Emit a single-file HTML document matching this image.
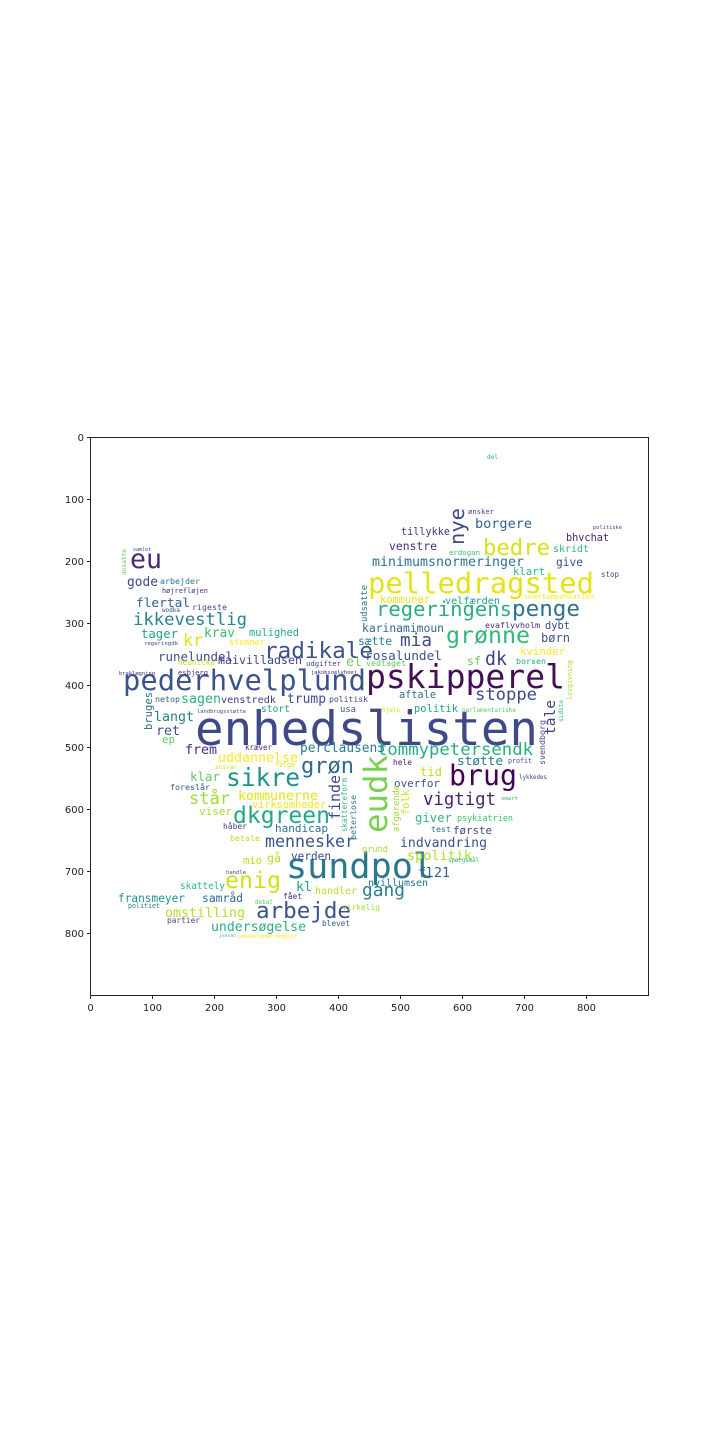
<!DOCTYPE html>
<html><head><meta charset="utf-8"><style>
html,body{margin:0;padding:0;background:#fff;}
svg{display:block;}
</style></head><body>
<svg id="chart" width="720" height="1440" viewBox="0 0 720 1440" xmlns="http://www.w3.org/2000/svg">
<g id="words" font-family="'DejaVu Sans Mono','Liberation Mono',monospace"></g>
<rect x="90.5" y="437.5" width="558" height="558" fill="none" stroke="#222" stroke-width="1"/>
<g id="axes" font-family="'DejaVu Sans','Liberation Sans',sans-serif" font-size="10" fill="#222"></g>
</svg>
<script>
const xTicks=[0,100,200,300,400,500,600,700,800];
const yTicks=[0,100,200,300,400,500,600,700,800];
// [text, x1, x2, baseline, weight(unused), color, rotated]
const words=[
["enhedslisten",195,538,745,58,"#3f4889",0],
["pelledragsted",368,594,593,40,"#e2e418",0],
["pskipperel",366,565,688,42,"#440f54",0],
["pederhvelplund",123,366,690,38,"#3b528b",0],
["sundpol",286,434,878,40,"#2a788e",0],
["brug",449,517,785,36,"#440154",0],
["radikale",264,373,658,30,"#3b528b",0],
["regeringens",376,512,616,28,"#2ab07f",0],
["penge",512,580,616,28,"#2c728e",0],
["grønne",446,530,643,30,"#35b779",0],
["sikre",226,300,786,30,"#21918c",0],
["dkgreen",233,330,823,30,"#22a884",0],
["enig",225,281,888,30,"#d0e11c",0],
["arbejde",256,351,918,28,"#3b528b",0],
["eu",130,162,568,32,"#482878",0],
["bedre",483,550,555,26,"#d8e219",0],
["grøn",301,354,773,26,"#31688e",0],
["ikkevestlig",133,247,625,22,"#25848e",0],
["kr",183,203,646,26,"#dde318",0],
["mia",400,432,646,22,"#3e4a89",0],
["stoppe",475,537,700,22,"#3e4a89",0],
["vigtigt",423,496,805,22,"#482677",0],
["tommypetersendk",377,533,755,18,"#29af7f",0],
["mennesker",265,355,847,18,"#3b528b",0],
["gang",362,405,896,20,"#287d8e",0],
["dk",485,507,665,22,"#433e85",0],
["står",189,230,804,20,"#a0da39",0],
["kommunerne",238,318,800,15,"#dfe318",0],
["uddannelse",218,298,762,15,"#fde725",0],
["frem",185,217,754,15,"#472c7a",0],
["klar",190,220,781,14,"#5ec962",0],
["perclausen3",300,385,752,14,"#287c8e",0],
["indvandring",400,487,847,16,"#3a548c",0],
["spolitik",407,472,860,16,"#addc30",0],
["fl21",418,450,877,16,"#365d8d",0],
["nvillumsen",368,428,886,13,"#2e6e8e",0],
["samråd",202,243,902,14,"#31668e",0],
["omstilling",165,245,917,15,"#b5de2b",0],
["undersøgelse",211,306,931,15,"#2ab07f",0],
["fransmeyer",118,185,902,13,"#20928c",0],
["skattely",180,225,889,12,"#34b679",0],
["kl",296,312,891,16,"#20a386",0],
["handler",315,357,894,13,"#bddf26",0],
["verden",291,331,860,13,"#3e4989",0],
["gå",267,281,862,15,"#b2dd2d",0],
["mio",243,262,864,13,"#b8de29",0],
["handicap",275,328,832,13,"#2c728e",0],
["betale",230,260,841,11,"#bade28",0],
["viser",199,232,815,12,"#a8db34",0],
["håber",223,247,829,11,"#414487",0],
["virksomheder",252,326,808,12,"#f1e51d",0],
["foreslår",170,210,790,11,"#3b528b",0],
["overfor",394,440,787,13,"#3b528b",0],
["tid",420,442,776,15,"#c2df23",0],
["støtte",457,503,765,14,"#29798e",0],
["hele",393,412,765,11,"#482173",0],
["giver",415,452,822,14,"#35b779",0],
["psykiatrien",457,513,821,11,"#3dbc74",0],
["test",431,451,832,11,"#2c718e",0],
["første",453,492,834,13,"#3f4788",0],
["aftale",399,436,698,14,"#2c728e",0],
["politik",414,458,712,13,"#21a685",0],
["sf",467,481,665,16,"#6ece58",0],
["børn",541,570,642,14,"#3b528b",0],
["kvinder",520,565,655,13,"#fde725",0],
["borsen",516,546,664,11,"#25ab82",0],
["dybt",545,570,629,13,"#3e4989",0],
["evaflyvholm",485,540,628,11,"#482979",0],
["rosalundel",365,442,660,15,"#3b528b",0],
["karinamimoun",362,444,632,13,"#31688e",0],
["sætte",358,392,645,12,"#287d8e",0],
["vedtaget",366,406,666,10,"#5ec962",0],
["el",346,362,666,15,"#75d054",0],
["kommuner",380,430,603,11,"#e5e419",0],
["velfærden",445,500,604,12,"#1f998a",0],
["minimumsnormeringer",372,524,566,15,"#2d718e",0],
["venstre",389,437,550,15,"#46307e",0],
["tillykke",401,450,535,13,"#453581",0],
["borgere",475,532,528,15,"#34618d",0],
["bhvchat",566,609,541,13,"#482475",0],
["skridt",553,589,552,13,"#35b779",0],
["give",556,583,566,13,"#3e4c8a",0],
["klart",513,545,575,12,"#2fb47c",0],
["erdogan",449,480,555,9,"#3bbb75",0],
["stop",601,619,577,9,"#3e4989",0],
["overkompensation",525,594,599,8,"#fde725",0],
["politiske",593,622,529,6,"#3e4989",0],
["ønsker",468,494,514,7,"#3e4989",0],
["del",487,498,459,6,"#2ab07f",0],
["gode",127,158,586,15,"#3e4989",0],
["arbejder",160,200,584,11,"#2c728e",0],
["højrefløjen",162,208,593,10,"#46327e",0],
["flertal",136,190,607,15,"#34608d",0],
["rigeste",192,227,610,11,"#3d4e8a",0],
["tager",141,178,638,15,"#20a486",0],
["krav",204,235,637,15,"#3dbc74",0],
["mulighed",249,299,636,13,"#22a785",0],
["stemmer",229,265,645,11,"#fde725",0],
["runelundel",158,233,661,15,"#3e4989",0],
["maivilladsen",218,302,664,13,"#404387",0],
["udgifter",306,341,666,10,"#414487",0],
["heunicke",178,215,665,10,"#c0df25",0],
["esbjerg",178,208,675,9,"#472d7b",0],
["sagen",181,221,703,16,"#2ab07f",0],
["venstredk",221,276,703,12,"#433d84",0],
["trump",287,326,703,15,"#3e4a89",0],
["politisk",329,368,702,10,"#414487",0],
["langt",154,194,721,15,"#287d8e",0],
["netop",155,180,702,10,"#34608d",0],
["stort",261,290,712,11,"#1f9f88",0],
["usa",340,356,712,9,"#39568c",0],
["ret",156,180,735,15,"#3b528b",0],
["ep",162,175,743,9,"#5ec962",0],
["lykkedes",519,547,779,7,"#3e4989",0],
["samlet",133,151,551,6,"#3e4989",0],
["wodka",162,180,612,6,"#3e4989",0],
["regeringdk",144,178,645,6,"#3e4989",0],
["braklægning",119,155,675,6,"#482878",0],
["landbrugsstøtte",197,246,713,6,"#3e4989",0],
["jakobsoelvhoej",311,357,674,6,"#482878",0],
["ansvar",215,237,769,7,"#d8e219",0],
["kræver",245,272,750,7,"#472c7a",0],
["følge",275,295,767,7,"#d8e219",0],
["profit",508,532,763,6,"#3e4989",0],
["smart",501,518,800,6,"#35b779",0],
["jensen",219,236,937,6,"#35b779",0],
["advokatundersøgelse",238,297,938,6,"#fde725",0],
["blevet",322,350,926,10,"#3b528b",0],
["fået",283,302,899,11,"#482878",0],
["debat",255,273,904,6,"#5ec962",0],
["partier",167,200,923,11,"#3e4989",0],
["politiet",128,160,908,7,"#2c728e",0],
["virkelig",342,380,910,11,"#a5db36",0],
["handle",226,246,874,7,"#3e4989",0],
["grund",362,388,852,11,"#a5db36",0],
["spørgsmål",448,479,862,6,"#35b779",0],
["parlamentariske",462,516,712,6,"#5ec962",0],
["hjælp",382,400,712,6,"#d8e219",0],
["eudk",755,833,387,40,"#7ad151",1],
["nye",508,545,464,26,"#3e4a89",1],
["finde",775,820,340,15,"#3f4788",1],
["peterlose",795,840,356,12,"#2c728e",1],
["skattereform",778,832,347,9,"#35b779",1],
["afgørende",785,832,399,11,"#a5db36",1],
["folk",790,815,409,12,"#d2e21b",1],
["svendborg",720,765,545,12,"#3e4a89",1],
["tale",700,735,555,13,"#433d84",1],
["sidste",700,722,563,7,"#35b779",1],
["bruges",692,730,152,12,"#2c728e",1],
["udsatte",585,622,367,7,"#2c728e",1],
["ansatte",549,575,126,6,"#5ec962",1],
["lovgivning",660,700,572,6,"#a5db36",1]
];
const wg=document.getElementById('words');
const NS="http://www.w3.org/2000/svg";
for(const w of words){
  const len=w[2]-w[1];
  const size=len/(w[0].length*0.602);
  const t=document.createElementNS(NS,'text');
  
  
  t.textContent=w[0];
  t.setAttribute('font-size',size.toFixed(2));
  t.setAttribute('fill',w[5]);
  t.setAttribute('textLength',len);
  t.setAttribute('lengthAdjust','spacingAndGlyphs');
  if(w[6]){
    t.setAttribute('x',0);t.setAttribute('y',0);
    t.setAttribute('transform','translate('+w[3]+','+w[2]+') rotate(-90)');
  } else {
    t.setAttribute('x',w[1]);t.setAttribute('y',w[3]);
  }
  wg.appendChild(t);
}
const x0=90.5,y0=437.5,sc=558/900;
const sx=v=>x0+v*sc, sy=v=>y0+v*sc;
const ag=document.getElementById('axes');
for(const v of xTicks){
  const l=document.createElementNS(NS,'line');
  
  
  l.setAttribute('x1',sx(v));l.setAttribute('x2',sx(v));l.setAttribute('y1',995.5);l.setAttribute('y2',999);
  l.setAttribute('stroke','#222');ag.appendChild(l);
  const t=document.createElementNS(NS,'text');
  
  
  t.setAttribute('x',sx(v));t.setAttribute('y',1011);t.setAttribute('text-anchor','middle');
  t.textContent=v;ag.appendChild(t);
}
for(const v of yTicks){
  const l=document.createElementNS(NS,'line');
  
  
  l.setAttribute('x1',87);l.setAttribute('x2',90.5);l.setAttribute('y1',sy(v));l.setAttribute('y2',sy(v));
  l.setAttribute('stroke','#222');ag.appendChild(l);
  const t=document.createElementNS(NS,'text');
  
  
  t.setAttribute('x',84);t.setAttribute('y',sy(v)+3.5);t.setAttribute('text-anchor','end');
  t.textContent=v;ag.appendChild(t);
}
</script>
</body></html>
